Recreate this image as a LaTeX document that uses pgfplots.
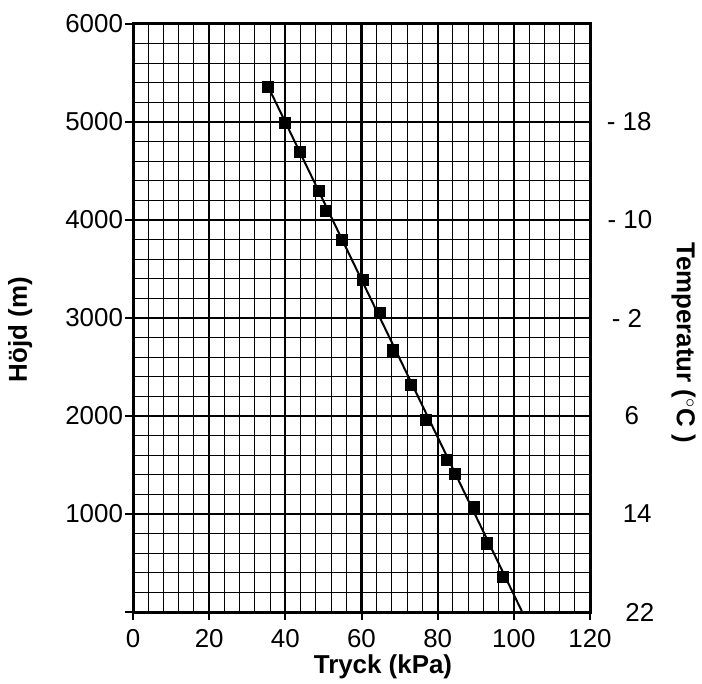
\documentclass[border=0pt]{standalone}
\usepackage{fontspec}
\setmainfont{Liberation Sans}
\usepackage{pgfplots}
\pgfplotsset{compat=1.18}

\begin{document}
\begin{tikzpicture}
\useasboundingbox (-66.5bp,-36bp) rectangle (284.5bp,306bp);
\begin{axis}[
    at={(0,0)}, anchor=south west,
    scale only axis, width=228.5bp, height=294bp,
    xmin=0, xmax=120, ymin=0, ymax=6000,
    xtick={0,20,...,120},
    ytick={0,1000,...,6000},
    yticklabels={{},1000,2000,3000,4000,5000,6000},
    minor x tick num=4, minor y tick num=4,
    grid=both,
    major grid style={black, line width=1.1bp},
    minor grid style={black, line width=0.5bp},
    axis line style={line width=1.5bp},
    tick style={black, line width=1bp},
    tick align=outside, major tick length=4bp, minor tick length=0pt,
    xtick pos=bottom, ytick pos=left,
    scaled ticks=false,
    /pgf/number format/1000 sep={},
    /pgf/number format/assume math mode=true,
    ticklabel style={font=\fontsize{13}{15}\selectfont},
    xticklabel style={yshift=-1bp},
    yticklabel style={xshift=2.5bp},
    xlabel={Tryck (kPa)},
    ylabel={Höjd (m)},
    xlabel style={font=\fontsize{13}{15}\selectfont\bfseries, at={(axis description cs:0.547,-0.0935)}, anchor=center},
    ylabel style={font=\fontsize{13}{15}\selectfont\bfseries, at={(axis description cs:-0.247,0.48)}, anchor=center, rotate=0},
    clip=false,
]
% fitted line
\addplot[black, line width=1bp] coordinates {(35.5,5360) (102.2,0)};
% measured points
\addplot[only marks, mark=square*, mark size=2.8bp, black] coordinates {
    (35.5,5360) (39.9,4987) (43.9,4697) (48.8,4300) (50.7,4092)
    (54.8,3796) (60.3,3388) (64.9,3051) (68.3,2670) (72.9,2316)
    (76.9,1959) (82.4,1551) (84.6,1408) (89.5,1068) (92.9,701)
    (97.2,360)
};
% temperature scale on the right
\begin{scope}[every node/.style={font=\fontsize{13}{15}\selectfont, anchor=center}]
\node at (axis cs:130.3,5000) {- 18};
\node at (axis cs:130.5,4000) {- 10};
\node at (axis cs:129.7,3000) {- 2};
\node at (axis cs:131.0,2000) {6};
\node at (axis cs:132.4,1000) {14};
\node at (axis cs:133.1,0) {22};
\end{scope}
\node[font=\fontsize{13}{15}\selectfont\bfseries, rotate=-90, anchor=center]
    at (axis description cs:1.205,0.458) {Temperatur ($^{\circ}$C )};
\end{axis}
\end{tikzpicture}
\end{document}
